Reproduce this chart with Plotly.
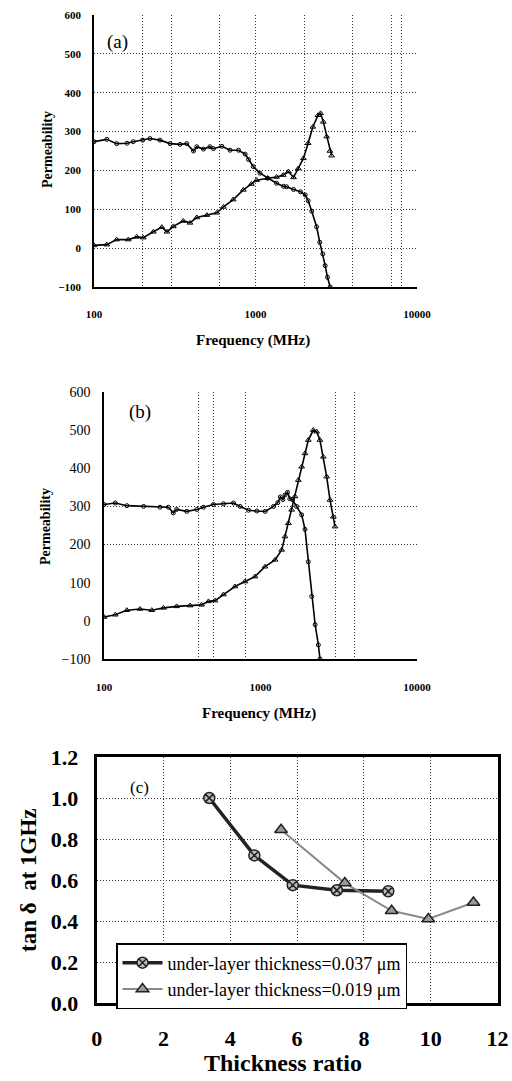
import plotly.graph_objects as go

# ---------------- Panel (a) ----------------
a_freq_real = [100, 120, 138, 160, 175, 200, 222, 256, 296, 341, 375, 413, 433, 476, 522, 549, 619,
               696, 785, 863, 905, 968, 1066, 1190, 1350, 1492, 1558, 1721, 1900, 2033, 2120, 2230,
               2390, 2500, 2610, 2700, 2790, 2900]
a_real = [274, 280, 269, 270, 274, 278, 282, 278, 269, 267, 269, 250, 261, 255, 261, 256, 262,
          252, 252, 242, 228, 210, 193, 180, 167, 159, 158, 151, 145, 137, 122, 95,
          55, 15, -15, -45, -75, -100]
a_freq_imag = [100, 120, 138, 163, 184, 202, 233, 263, 283, 310, 357, 393, 433, 500, 576, 633, 728,
               841, 944, 1016, 1190, 1350, 1486, 1600, 1720, 1840, 1980, 2117, 2265, 2440, 2530,
               2630, 2760, 2890, 2960]
a_imag = [7, 9, 22, 22, 29, 27, 42, 54, 42, 56, 70, 65, 79, 85, 91, 106, 125,
          150, 165, 175, 180, 183, 188, 197, 182, 205, 231, 270, 312, 342, 347,
          325, 287, 250, 238]

# ---------------- Panel (b) ----------------
b_freq_real = [100, 118, 140, 179, 228, 258, 277, 291, 338, 392, 432, 500, 580, 672, 741, 838, 948,
               1072, 1211, 1290, 1340, 1390, 1434, 1489, 1540, 1600, 1700, 1833, 1925, 2021, 2124,
               2234, 2343, 2400]
b_real = [305, 309, 302, 300, 298, 298, 283, 292, 287, 292, 298, 305, 307, 309, 300, 290, 288,
          287, 300, 310, 325, 318, 330, 337, 320, 318, 300, 278, 240, 155, 64,
          -10, -63, -100]
b_freq_imag = [100, 118, 140, 170, 202, 240, 291, 355, 420, 465, 512, 580, 687, 796, 922, 1069, 1239,
               1366, 1434, 1507, 1582, 1661, 1744, 1833, 1925, 2021, 2175, 2284, 2398, 2520, 2647,
               2780, 2920, 2993]
b_imag = [10, 16, 28, 31, 28, 34, 38, 40, 42, 51, 53, 69, 90, 103, 116, 142, 160,
          186, 221, 256, 291, 326, 369, 404, 439, 474, 500, 496, 474, 430, 378,
          317, 273, 247]

# ---------------- Panel (c) ----------------
c_ratio_037 = [3.37, 4.72, 5.87, 7.19, 8.73]
c_tan_037 = [1.0, 0.72, 0.575, 0.55, 0.545]
c_ratio_019 = [5.52, 7.43, 8.83, 9.93, 11.28]
c_tan_019 = [0.845, 0.585, 0.45, 0.41, 0.49]
c_names = ["under-layer thickness=0.037 \u03bcm", "under-layer thickness=0.019 \u03bcm"]

W, H = 512, 1081
SERIF = "Times New Roman, Liberation Serif, DejaVu Serif, serif"
GRID = "#333333"
GRID_DASH = "1px,2px"

def px(x):
    return x / W

def py(y):
    return 1 - y / H

fig = go.Figure()

# (a)
fig.add_trace(go.Scatter(x=a_freq_real, y=a_real, mode="lines+markers", xaxis="x", yaxis="y",
                         line=dict(color="black", width=1.6),
                         marker=dict(symbol="circle-open", size=4, color="black", line=dict(width=1)),
                         showlegend=False))
fig.add_trace(go.Scatter(x=a_freq_imag, y=a_imag, mode="lines+markers", xaxis="x", yaxis="y",
                         line=dict(color="black", width=1.6),
                         marker=dict(symbol="triangle-up-open", size=5, color="black", line=dict(width=1)),
                         showlegend=False))
# (b)
fig.add_trace(go.Scatter(x=b_freq_real, y=b_real, mode="lines+markers", xaxis="x2", yaxis="y2",
                         line=dict(color="black", width=1.6),
                         marker=dict(symbol="circle-open", size=4, color="black", line=dict(width=1)),
                         showlegend=False))
fig.add_trace(go.Scatter(x=b_freq_imag, y=b_imag, mode="lines+markers", xaxis="x2", yaxis="y2",
                         line=dict(color="black", width=1.6),
                         marker=dict(symbol="triangle-up-open", size=5, color="black", line=dict(width=1)),
                         showlegend=False))
# (c)
fig.add_trace(go.Scatter(x=c_ratio_037, y=c_tan_037, mode="lines+markers", xaxis="x3", yaxis="y3",
                         name=c_names[0],
                         line=dict(color="#222222", width=3.5),
                         marker=dict(symbol="circle-x", size=11, color="#bbbbbb",
                                     line=dict(color="#222222", width=1.5))))
fig.add_trace(go.Scatter(x=c_ratio_019, y=c_tan_019, mode="lines+markers", xaxis="x3", yaxis="y3",
                         name=c_names[1],
                         line=dict(color="#8a8a8a", width=2),
                         marker=dict(symbol="triangle-up", size=11, color="#9a9a9a",
                                     line=dict(color="#222222", width=1.5))))

tick_a_x = [100, 1000, 10000]
grid_a_x = [200, 300, 600, 1000, 2000, 4000, 7000, 8000, 10000]
grid_a_y = [0, 100, 200, 300, 400, 500, 600]
grid_b_x = [400, 500, 800, 3000, 4000, 10000]
grid_b_y = [200, 300, 600]

def minor_grid(vals):
    return dict(tickmode="array", tickvals=vals, showgrid=True, gridcolor=GRID,
                griddash=GRID_DASH, gridwidth=1, ticks="")

def tf(size, bold=True):
    return dict(family=SERIF, size=size, color="black", weight="bold" if bold else "normal")

layout = dict(
    width=W, height=H, margin=dict(l=0, r=0, t=0, b=0, autoexpand=False),
    paper_bgcolor="white", plot_bgcolor="white",
    showlegend=True,
    xaxis=dict(domain=[px(94), px(417)], type="log", range=[2, 4], anchor="y",
               tickmode="array", tickvals=tick_a_x, ticktext=["100", "1000", "10000"],
               showgrid=False, minor=minor_grid(grid_a_x), zeroline=False,
               showline=True, linecolor="black", linewidth=1.5, ticks="",
               ticklabelstandoff=16, tickfont=tf(11)),
    yaxis=dict(domain=[py(287), py(15)], range=[-100, 600], anchor="x",
               tickmode="array", tickvals=[-100, 0, 100, 200, 300, 400, 500, 600],
               showgrid=False, minor=minor_grid(grid_a_y), zeroline=False,
               showline=True, linecolor="black", linewidth=1.5, ticks="",
               ticklabelstandoff=9, tickfont=tf(11)),
    xaxis2=dict(domain=[px(104), px(417)], type="log", range=[2, 4], anchor="y2",
                tickmode="array", tickvals=tick_a_x, ticktext=["100", "1000", "10000"],
                showgrid=False, minor=minor_grid(grid_b_x), zeroline=False,
                showline=True, linecolor="black", linewidth=1.5, ticks="",
                ticklabelstandoff=17, tickfont=tf(11)),
    yaxis2=dict(domain=[py(659), py(392)], range=[-100, 600], anchor="x2",
                tickmode="array", tickvals=[-100, 0, 100, 200, 300, 400, 500, 600],
                showgrid=False, minor=minor_grid(grid_b_y), zeroline=False,
                showline=True, linecolor="black", linewidth=1.5, ticks="",
                ticklabelstandoff=9, tickfont=tf(14, bold=False)),
    xaxis3=dict(domain=[px(96.7), px(497.5)], range=[0, 12], anchor="y3",
                tickmode="array", tickvals=[0, 2, 4, 6, 8, 10, 12],
                showgrid=True, gridcolor=GRID, griddash=GRID_DASH, gridwidth=1, zeroline=False,
                showline=True, mirror=True, linecolor="black", linewidth=3, ticks="",
                ticklabelstandoff=14, tickfont=tf(22)),
    yaxis3=dict(domain=[py(1003), py(757)], range=[0, 1.2], anchor="x3",
                tickmode="array", tickvals=[0, 0.2, 0.4, 0.6, 0.8, 1.0, 1.2],
                ticktext=["0.0", "0.2", "0.4", "0.6", "0.8", "1.0", "1.2"],
                showgrid=True, gridcolor=GRID, griddash=GRID_DASH, gridwidth=1, zeroline=False,
                showline=True, mirror=True, linecolor="black", linewidth=3, ticks="",
                ticklabelstandoff=11, tickfont=tf(22)),
    legend=dict(x=px(116), y=py(943), xanchor="left", yanchor="top",
                bgcolor="white", bordercolor="black", borderwidth=1.5,
                font=dict(family=SERIF, size=18, color="black"),
                tracegroupgap=0, itemwidth=40),
)
fig.update_layout(**layout)

def ann(text, x, y, size, bold=True, angle=0):
    fig.add_annotation(text=text, x=px(x), y=py(y), xref="paper", yref="paper",
                       showarrow=False, textangle=angle, xanchor="center", yanchor="middle",
                       font=tf(size, bold))

ann("(a)", 117, 42, 19, bold=False)
ann("Permeability", 47, 150, 14, angle=-90)
ann("Frequency (MHz)", 253, 340, 15)
ann("(b)", 140, 412, 19, bold=False)
ann("Permeability", 45, 527, 14, angle=-90)
ann("Frequency (MHz)", 259, 713, 15)
ann("(c)", 139, 787, 17, bold=False)
ann("tan \u03b4  at 1GHz", 28, 880, 23, angle=-90)
ann("Thickness ratio", 283, 1063, 24)

fig.write_html(
    "out.html",
    config={"displayModeBar": False},
    post_script="document.body.style.margin='0';document.body.style.overflow='hidden';",
)
